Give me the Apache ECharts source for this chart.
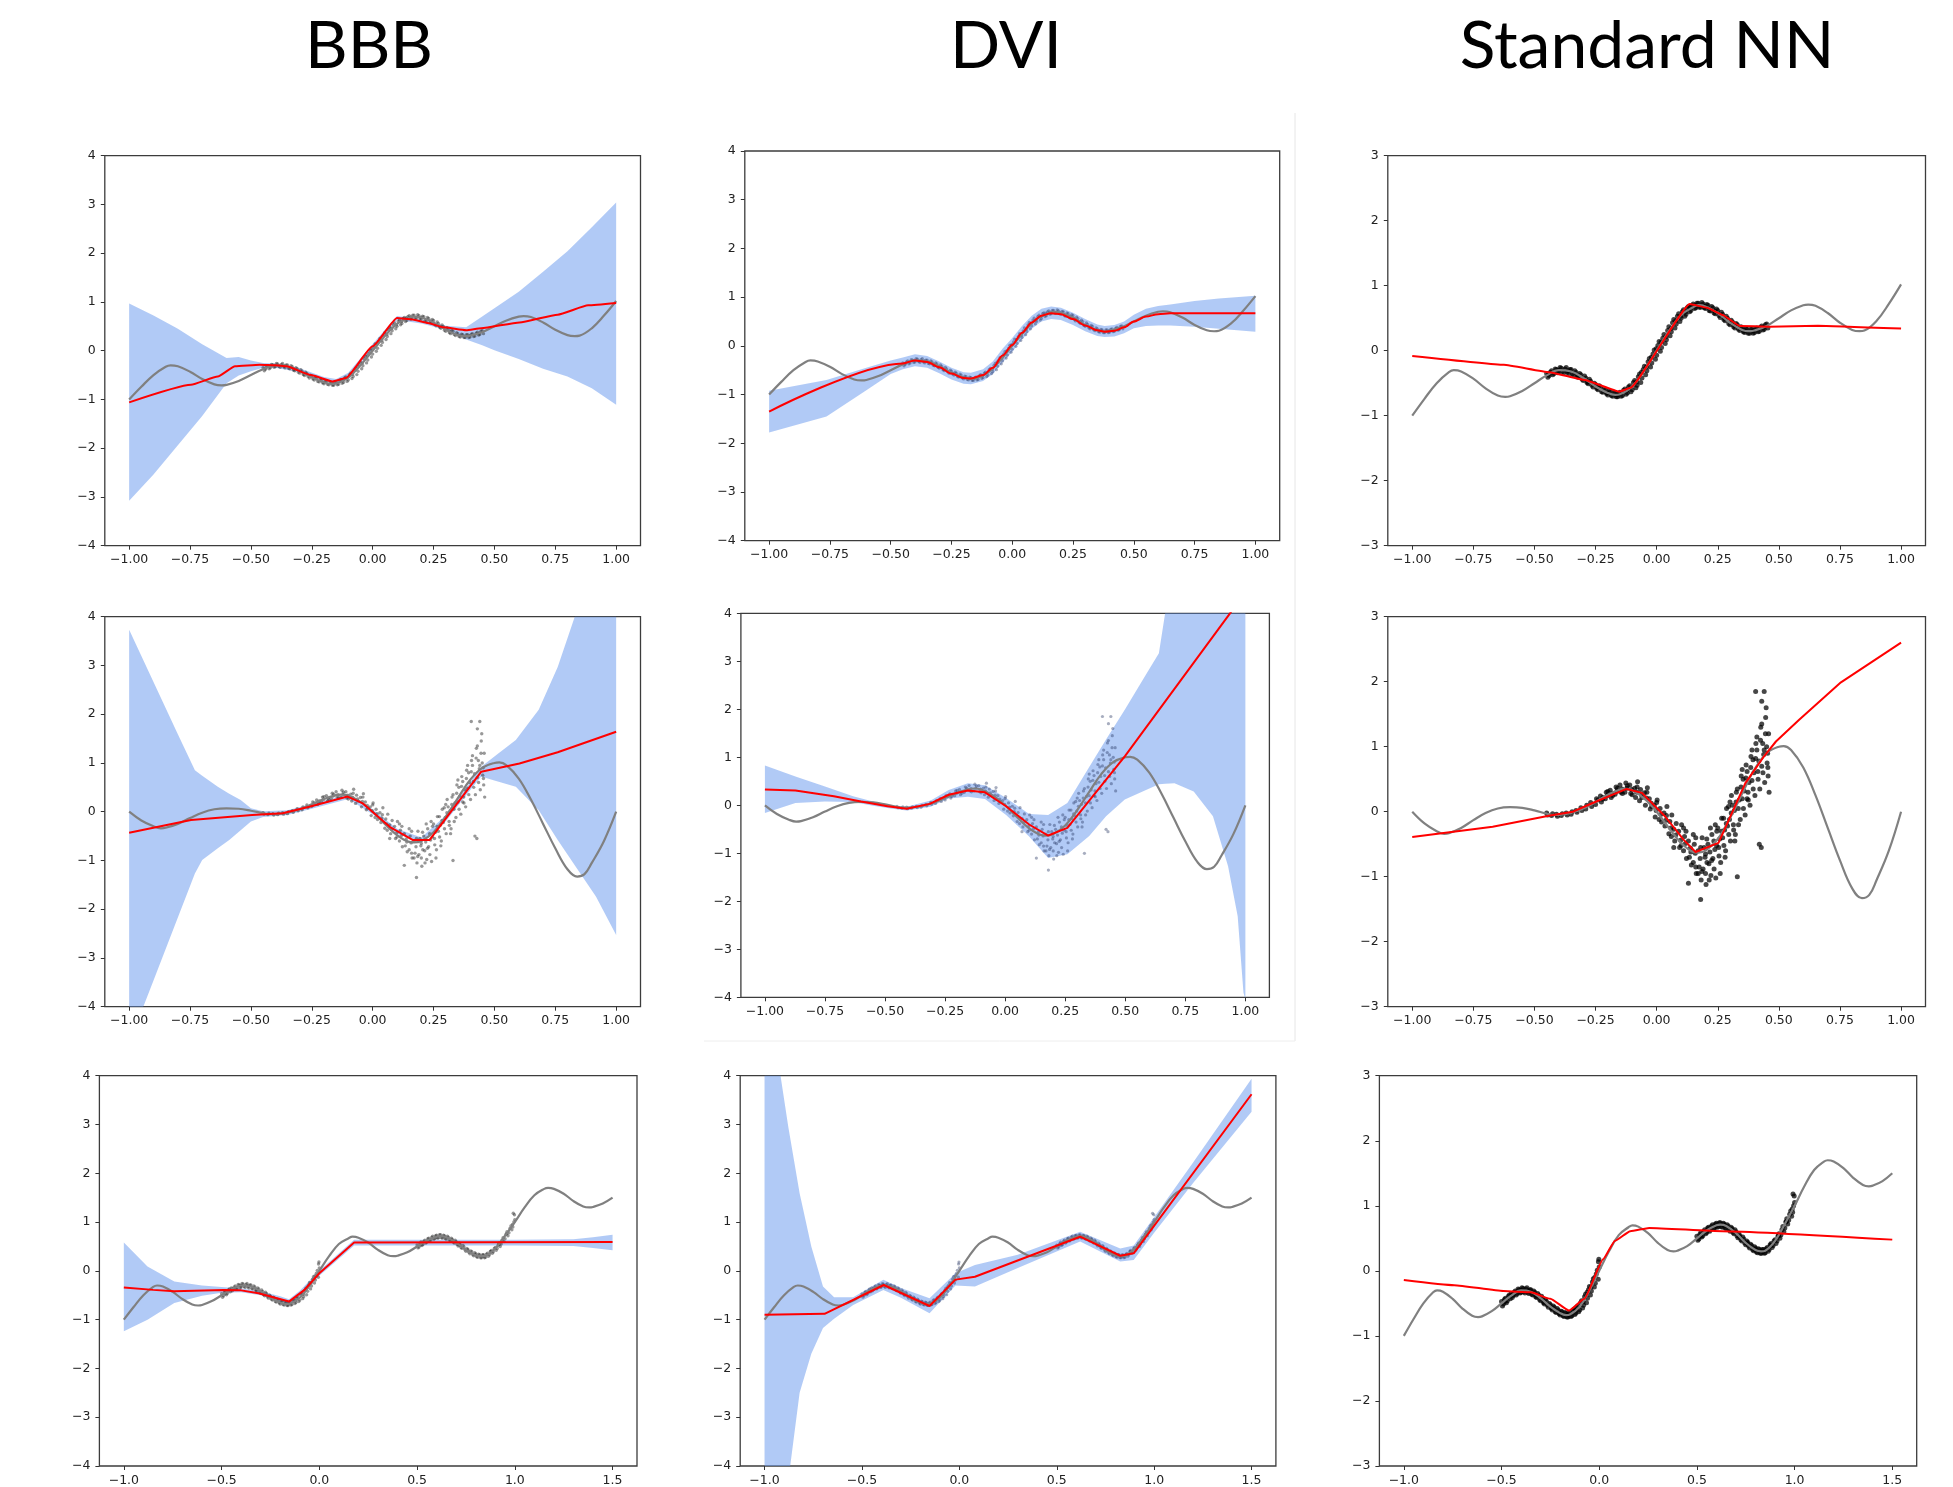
<!DOCTYPE html>
<html><head><meta charset="utf-8">
<script src="https://cdn.jsdelivr.net/npm/echarts@6/dist/echarts.min.js"></script>
<style>html,body{margin:0;padding:0;background:#fff}#c{width:1953px;height:1487px}</style>
</head><body><div id="c"></div>
<script>
// ---------- column titles ----------
const columnTitles = ['BBB', 'DVI', 'Standard NN'];

// ---------- tick labels ----------
const xTicksA = [-1, -0.75, -0.5, -0.25, 0, 0.25, 0.5, 0.75, 1];
const xTicksB = [-1, -0.5, 0, 0.5, 1, 1.5];
const yTicks4 = [-4, -3, -2, -1, 0, 1, 2, 3, 4];
const yTicks3 = [-3, -2, -1, 0, 1, 2, 3];

// ---------- ground-truth curves (gray) ----------
const truthX1 = [-1,-0.95,-0.9,-0.85,-0.83,-0.8,-0.75,-0.7,-0.65,-0.62,-0.6,-0.55,-0.5,-0.45,-0.4,-0.35,-0.3,-0.25,-0.2,-0.17,-0.15,-0.1,-0.05,0,0.05,0.1,0.15,0.17,0.2,0.25,0.3,0.35,0.38,0.4,0.45,0.5,0.55,0.6,0.62,0.65,0.7,0.75,0.8,0.83,0.85,0.9,0.95,1];
const truthY1 = [-1,-0.74,-0.5,-0.33,-0.3,-0.32,-0.43,-0.58,-0.69,-0.71,-0.7,-0.62,-0.5,-0.38,-0.3,-0.32,-0.42,-0.55,-0.65,-0.68,-0.67,-0.55,-0.3,0,0.3,0.55,0.67,0.7,0.68,0.58,0.43,0.32,0.3,0.31,0.38,0.5,0.62,0.7,0.71,0.69,0.58,0.43,0.32,0.3,0.31,0.46,0.72,1.02];
const truthX2 = [-1,-0.95,-0.9,-0.87,-0.85,-0.8,-0.75,-0.7,-0.65,-0.6,-0.55,-0.5,-0.45,-0.42,-0.4,-0.35,-0.3,-0.25,-0.2,-0.15,-0.13,-0.1,-0.05,0,0.05,0.1,0.15,0.17,0.2,0.25,0.3,0.35,0.4,0.45,0.5,0.52,0.55,0.6,0.65,0.7,0.75,0.8,0.84,0.87,0.9,0.95,1];
const truthY2 = [0,-0.18,-0.3,-0.34,-0.33,-0.25,-0.13,-0.02,0.05,0.07,0.06,0.02,-0.03,-0.05,-0.05,-0.02,0.05,0.15,0.26,0.34,0.35,0.33,0.2,0,-0.25,-0.48,-0.62,-0.63,-0.6,-0.42,-0.1,0.28,0.65,0.9,1.0,1.01,0.95,0.68,0.25,-0.25,-0.75,-1.18,-1.33,-1.28,-1.05,-0.6,0];
const truthX3 = [-1,-0.95,-0.9,-0.85,-0.83,-0.8,-0.75,-0.7,-0.65,-0.62,-0.6,-0.55,-0.5,-0.45,-0.4,-0.35,-0.3,-0.25,-0.2,-0.17,-0.15,-0.1,-0.05,0,0.05,0.1,0.15,0.17,0.2,0.25,0.3,0.35,0.38,0.4,0.45,0.5,0.55,0.6,0.62,0.65,0.7,0.75,0.8,0.83,0.85,0.9,0.95,1,1.05,1.1,1.15,1.17,1.2,1.25,1.3,1.35,1.38,1.4,1.45,1.5];
const truthY3 = [-1,-0.74,-0.5,-0.33,-0.3,-0.32,-0.43,-0.58,-0.69,-0.71,-0.7,-0.62,-0.5,-0.38,-0.3,-0.32,-0.42,-0.55,-0.65,-0.68,-0.67,-0.55,-0.3,0,0.3,0.55,0.67,0.7,0.68,0.58,0.43,0.32,0.3,0.31,0.38,0.5,0.62,0.7,0.71,0.69,0.58,0.43,0.32,0.3,0.31,0.46,0.72,1.0,1.3,1.55,1.68,1.7,1.68,1.58,1.43,1.32,1.3,1.31,1.38,1.5];

// ---------- observed data points ----------
const data1 = [
[-0.450,-0.35],[-0.445,-0.41],[-0.440,-0.38],[-0.435,-0.33],[-0.430,-0.31],[-0.425,-0.37],[-0.420,-0.35],[-0.415,-0.28],
[-0.410,-0.29],[-0.405,-0.34],[-0.400,-0.33],[-0.395,-0.26],[-0.390,-0.27],[-0.385,-0.32],[-0.380,-0.34],[-0.375,-0.28],
[-0.370,-0.26],[-0.365,-0.33],[-0.360,-0.35],[-0.355,-0.29],[-0.350,-0.29],[-0.345,-0.36],[-0.340,-0.37],[-0.335,-0.31],
[-0.330,-0.33],[-0.325,-0.40],[-0.320,-0.41],[-0.315,-0.35],[-0.310,-0.37],[-0.305,-0.44],[-0.300,-0.46],[-0.295,-0.39],
[-0.290,-0.42],[-0.285,-0.49],[-0.280,-0.51],[-0.275,-0.44],[-0.270,-0.47],[-0.265,-0.53],[-0.260,-0.56],[-0.255,-0.50],
[-0.250,-0.52],[-0.245,-0.58],[-0.240,-0.60],[-0.235,-0.54],[-0.230,-0.56],[-0.225,-0.63],[-0.220,-0.64],[-0.215,-0.58],
[-0.210,-0.60],[-0.205,-0.66],[-0.200,-0.68],[-0.195,-0.62],[-0.190,-0.63],[-0.185,-0.69],[-0.180,-0.70],[-0.175,-0.64],
[-0.170,-0.65],[-0.165,-0.71],[-0.160,-0.71],[-0.155,-0.66],[-0.150,-0.64],[-0.145,-0.70],[-0.140,-0.69],[-0.135,-0.61],
[-0.130,-0.59],[-0.125,-0.67],[-0.120,-0.65],[-0.115,-0.56],[-0.110,-0.54],[-0.105,-0.63],[-0.100,-0.60],[-0.095,-0.49],
[-0.090,-0.46],[-0.085,-0.57],[-0.080,-0.53],[-0.075,-0.40],[-0.070,-0.36],[-0.065,-0.49],[-0.060,-0.42],[-0.055,-0.29],
[-0.050,-0.24],[-0.045,-0.37],[-0.040,-0.31],[-0.035,-0.17],[-0.030,-0.12],[-0.025,-0.25],[-0.020,-0.19],[-0.015,-0.05],
[-0.010,0.01],[-0.005,-0.13],[0.000,-0.07],[0.005,0.08],[0.010,0.14],[0.015,-0.01],[0.020,0.05],[0.025,0.19],
[0.030,0.25],[0.035,0.11],[0.040,0.17],[0.045,0.31],[0.050,0.37],[0.055,0.23],[0.060,0.29],[0.065,0.43],
[0.070,0.48],[0.075,0.35],[0.080,0.41],[0.085,0.53],[0.090,0.57],[0.095,0.45],[0.100,0.50],[0.105,0.60],
[0.110,0.63],[0.115,0.53],[0.120,0.56],[0.125,0.66],[0.130,0.68],[0.135,0.60],[0.140,0.62],[0.145,0.70],
[0.150,0.72],[0.155,0.65],[0.160,0.66],[0.165,0.73],[0.170,0.73],[0.175,0.67],[0.180,0.67],[0.185,0.74],
[0.190,0.72],[0.195,0.66],[0.200,0.65],[0.205,0.71],[0.210,0.70],[0.215,0.62],[0.220,0.61],[0.225,0.68],
[0.230,0.66],[0.235,0.58],[0.240,0.57],[0.245,0.64],[0.250,0.62],[0.255,0.54],[0.260,0.51],[0.265,0.59],
[0.270,0.56],[0.275,0.48],[0.280,0.46],[0.285,0.53],[0.290,0.50],[0.295,0.42],[0.300,0.40],[0.305,0.47],
[0.310,0.44],[0.315,0.37],[0.320,0.35],[0.325,0.42],[0.330,0.40],[0.335,0.33],[0.340,0.31],[0.345,0.37],
[0.350,0.35],[0.355,0.29],[0.360,0.28],[0.365,0.34],[0.370,0.33],[0.375,0.27],[0.380,0.27],[0.385,0.33],
[0.390,0.33],[0.395,0.27],[0.400,0.28],[0.405,0.34],[0.410,0.35],[0.415,0.29],[0.420,0.30],[0.425,0.36],
[0.430,0.38],[0.435,0.32],[0.440,0.33],[0.445,0.40],[0.450,0.41],[0.455,0.35],
[-0.442,-0.36],[-0.402,-0.30],[-0.362,-0.31],[-0.322,-0.38],[-0.282,-0.48],[-0.242,-0.57],[-0.202,-0.65],[-0.162,-0.68],
[-0.122,-0.61],[-0.082,-0.48],[-0.062,-0.33],[-0.042,-0.25],[-0.022,-0.10],[-0.002,0.03],[0.018,0.13],[0.038,0.22],
[0.058,0.34],[0.078,0.46],[0.098,0.53],[0.118,0.60],[0.138,0.67],[0.158,0.69],[0.198,0.68],[0.238,0.61],
[0.278,0.50],[0.318,0.39],[0.358,0.31],[0.398,0.31],[0.438,0.36]
];
const data2 = [
[-0.450,-0.02],[-0.446,-0.05],[-0.430,-0.06],[-0.426,-0.03],[-0.410,-0.04],[-0.406,-0.07],[-0.390,-0.06],[-0.386,-0.03],
[-0.370,-0.02],[-0.366,-0.05],[-0.350,-0.04],[-0.346,0.00],[-0.330,0.02],[-0.326,-0.01],[-0.310,0.06],[-0.306,0.02],
[-0.290,0.04],[-0.286,0.10],[-0.270,0.14],[-0.266,0.08],[-0.250,0.11],[-0.246,0.20],
[-0.230,0.24],[-0.226,0.15],[-0.222,0.19],[-0.210,0.20],[-0.206,0.30],[-0.202,0.25],
[-0.190,0.33],[-0.186,0.22],[-0.182,0.28],[-0.170,0.27],[-0.166,0.38],[-0.162,0.32],
[-0.150,0.41],[-0.146,0.30],[-0.142,0.35],[-0.130,0.30],[-0.126,0.44],[-0.122,0.36],
[-0.110,0.41],[-0.106,0.28],[-0.102,0.34],[-0.090,0.36],[-0.086,0.22],[-0.082,0.30],[-0.078,0.46],
[-0.070,0.17],[-0.066,0.34],[-0.062,0.26],[-0.050,0.29],[-0.046,0.10],[-0.042,0.21],[-0.038,0.37],
[-0.030,0.20],[-0.026,0.04],[-0.022,0.13],[-0.010,0.10],[-0.006,-0.08],[-0.002,0.02],[0.002,0.18],
[0.010,-0.12],[0.014,0.05],[0.018,-0.04],[0.030,-0.02],[0.034,-0.22],[0.038,-0.13],[0.042,0.08],
[0.050,-0.34],[0.054,-0.15],[0.058,-0.25],[0.062,-0.05],[0.070,-0.27],[0.074,-0.45],[0.078,-0.36],
[0.090,-0.30],[0.094,-0.55],[0.098,-0.44],[0.102,-0.20],[0.110,-0.60],[0.114,-0.38],[0.118,-0.49],[0.122,-0.72],
[0.130,-0.45],[0.134,-0.70],[0.138,-0.56],[0.142,-0.82],[0.150,-0.78],[0.154,-0.50],[0.158,-0.64],[0.162,-0.95],
[0.170,-0.60],[0.174,-0.85],[0.178,-0.72],[0.182,-1.05],[0.186,-0.40],
[0.190,-0.88],[0.194,-0.55],[0.198,-0.70],[0.202,-1.12],[0.206,-0.78],
[0.210,-0.50],[0.214,-0.80],[0.218,-0.62],[0.222,-0.98],[0.226,-0.35],
[0.230,-0.72],[0.234,-0.45],[0.238,-0.58],[0.242,-1.02],[0.246,-0.30],
[0.250,-0.25],[0.254,-0.55],[0.258,-0.42],[0.262,-0.78],[0.266,-0.10],
[0.270,-0.40],[0.274,-0.10],[0.278,-0.28],[0.282,-0.60],[0.286,0.05],
[0.290,-0.22],[0.294,0.08],[0.298,-0.12],[0.302,-0.45],[0.306,0.25],
[0.310,0.10],[0.314,-0.20],[0.318,0.02],[0.322,-0.35],[0.326,0.30],
[0.330,0.35],[0.334,0.05],[0.338,0.18],[0.342,-0.12],[0.346,0.55],
[0.350,0.20],[0.354,0.50],[0.358,0.32],[0.362,-0.05],[0.366,0.72],
[0.370,0.62],[0.374,0.30],[0.378,0.45],[0.382,0.10],[0.386,0.85],
[0.390,0.48],[0.394,0.80],[0.398,0.60],[0.402,0.25],[0.406,1.05],
[0.410,0.95],[0.414,0.62],[0.418,0.78],[0.422,0.35],[0.426,1.30],[0.428,-0.55],
[0.430,0.70],[0.434,1.05],[0.438,0.88],[0.442,0.45],[0.446,1.45],[0.448,1.60],
[0.450,1.00],[0.452,0.75],[0.454,0.90],[0.456,0.55],[0.458,1.20],[0.460,0.30],
[0.405,1.85],[0.440,1.85],[0.180,-1.35],[0.430,1.70],[0.330,-1.00],[0.130,-1.10],[0.420,-0.50],
[-0.240,0.18],[-0.220,0.22],[-0.200,0.31],[-0.180,0.25],[-0.160,0.36],[-0.140,0.28],[-0.120,0.40],[-0.100,0.26],
[-0.080,0.38],[-0.060,0.22],[-0.040,0.30],[-0.020,0.08],[0.000,0.14],[0.020,-0.16],[0.040,-0.06],[0.060,-0.38],
[0.080,-0.18],[0.100,-0.52],[0.120,-0.30],[0.140,-0.62],[0.160,-0.40],[0.160,-0.85],[0.180,-0.55],[0.185,-0.92],
[0.200,-0.65],[0.205,-0.42],[0.215,-1.05],[0.225,-0.75],[0.235,-0.88],[0.245,-0.52],[0.255,-0.68],[0.265,-0.30],
[0.275,-0.52],[0.285,-0.18],[0.295,-0.35],[0.305,-0.02],[0.315,-0.28],[0.325,0.15],[0.335,-0.20],[0.345,0.38],
[0.355,0.05],[0.365,0.52],[0.375,0.18],[0.385,0.68],[0.395,0.35],[0.405,0.82],[0.415,0.50],[0.425,1.10],
[0.435,0.60],[0.445,1.20],[0.455,0.68],[0.440,0.95],[0.430,1.35],[0.410,1.15],[0.390,0.95],[0.370,0.20],
[0.350,0.65],[0.320,-0.45],[0.300,0.15],[0.280,-0.70],[0.260,-0.95],[0.240,-0.20],[0.220,-0.25],[0.200,-0.95],
[0.170,-0.95],[0.150,-0.35],[0.110,-0.25],[0.070,-0.55]
];
const data3 = [
[-0.500,-0.47],[-0.495,-0.54],[-0.490,-0.51],[-0.485,-0.44],[-0.480,-0.42],[-0.475,-0.49],[-0.470,-0.46],[-0.465,-0.39],
[-0.460,-0.37],[-0.455,-0.43],
[-0.450,-0.35],[-0.445,-0.41],[-0.440,-0.38],[-0.435,-0.33],[-0.430,-0.31],[-0.425,-0.37],[-0.420,-0.35],[-0.415,-0.28],
[-0.410,-0.29],[-0.405,-0.34],[-0.400,-0.33],[-0.395,-0.26],[-0.390,-0.27],[-0.385,-0.32],[-0.380,-0.34],[-0.375,-0.28],
[-0.370,-0.26],[-0.365,-0.33],[-0.360,-0.35],[-0.355,-0.29],[-0.350,-0.29],[-0.345,-0.36],[-0.340,-0.37],[-0.335,-0.31],
[-0.330,-0.33],[-0.325,-0.40],[-0.320,-0.41],[-0.315,-0.35],[-0.310,-0.37],[-0.305,-0.44],[-0.300,-0.46],[-0.295,-0.39],
[-0.290,-0.42],[-0.285,-0.49],[-0.280,-0.51],[-0.275,-0.44],[-0.270,-0.47],[-0.265,-0.53],[-0.260,-0.56],[-0.255,-0.50],
[-0.250,-0.52],[-0.245,-0.58],[-0.240,-0.60],[-0.235,-0.54],[-0.230,-0.56],[-0.225,-0.63],[-0.220,-0.64],[-0.215,-0.58],
[-0.210,-0.60],[-0.205,-0.66],[-0.200,-0.68],[-0.195,-0.62],[-0.190,-0.63],[-0.185,-0.69],[-0.180,-0.70],[-0.175,-0.64],
[-0.170,-0.65],[-0.165,-0.71],[-0.160,-0.71],[-0.155,-0.66],[-0.150,-0.64],[-0.145,-0.70],[-0.140,-0.69],[-0.135,-0.61],
[-0.130,-0.59],[-0.125,-0.67],[-0.120,-0.65],[-0.115,-0.56],[-0.110,-0.54],[-0.105,-0.63],[-0.100,-0.60],[-0.095,-0.49],
[-0.090,-0.46],[-0.085,-0.57],[-0.080,-0.53],[-0.075,-0.40],[-0.070,-0.36],[-0.065,-0.49],[-0.060,-0.42],[-0.055,-0.29],
[-0.050,-0.24],[-0.045,-0.37],[-0.040,-0.31],[-0.035,-0.17],[-0.030,-0.12],[-0.025,-0.25],[-0.020,-0.19],[-0.015,-0.05],
[-0.010,0.01],[-0.005,-0.13],[-0.004,0.14],[-0.002,0.18],[0.000,0.06],
[-0.482,-0.47],[-0.442,-0.36],[-0.402,-0.30],[-0.362,-0.31],[-0.322,-0.38],[-0.282,-0.48],[-0.242,-0.57],[-0.202,-0.65],
[-0.162,-0.68],[-0.122,-0.61],[-0.082,-0.48],[-0.062,-0.33],[-0.042,-0.25],[-0.022,-0.10],
[0.500,0.53],[0.505,0.47],[0.510,0.49],[0.515,0.56],[0.520,0.59],[0.525,0.52],[0.530,0.54],[0.535,0.61],
[0.540,0.63],[0.545,0.57],[0.550,0.59],[0.555,0.66],[0.560,0.67],[0.565,0.61],[0.570,0.63],[0.575,0.69],
[0.580,0.71],[0.585,0.65],[0.590,0.66],[0.595,0.72],[0.600,0.73],[0.605,0.67],[0.610,0.68],[0.615,0.74],
[0.620,0.74],[0.625,0.68],[0.630,0.67],[0.635,0.73],[0.640,0.72],[0.645,0.66],[0.650,0.65],[0.655,0.71],
[0.660,0.69],[0.665,0.63],[0.670,0.61],[0.675,0.67],[0.680,0.65],[0.685,0.59],[0.690,0.57],[0.695,0.63],
[0.700,0.60],[0.705,0.54],[0.710,0.51],[0.715,0.57],[0.720,0.54],[0.725,0.48],[0.730,0.46],[0.735,0.52],
[0.740,0.49],[0.745,0.43],[0.750,0.40],[0.755,0.46],[0.760,0.44],[0.765,0.38],[0.770,0.35],[0.775,0.41],
[0.780,0.39],[0.785,0.33],[0.790,0.31],[0.795,0.37],[0.800,0.35],[0.805,0.29],[0.810,0.28],[0.815,0.34],
[0.820,0.33],[0.825,0.27],[0.830,0.27],[0.835,0.33],[0.840,0.33],[0.845,0.27],[0.850,0.28],[0.855,0.34],
[0.860,0.36],[0.865,0.30],[0.870,0.33],[0.875,0.40],[0.880,0.42],[0.885,0.36],[0.890,0.39],[0.895,0.46],
[0.900,0.48],[0.905,0.42],[0.910,0.46],[0.915,0.53],[0.920,0.57],[0.925,0.50],[0.930,0.55],[0.935,0.63],
[0.940,0.68],[0.945,0.60],[0.950,0.66],[0.955,0.75],[0.960,0.80],[0.965,0.72],[0.970,0.78],[0.975,0.87],
[0.980,0.92],[0.985,0.84],[0.990,0.90],[0.995,1.00],[1.000,1.05],[0.998,1.15],[0.992,1.18],
[0.518,0.53],[0.558,0.63],[0.598,0.69],[0.638,0.70],[0.678,0.63],[0.718,0.52],[0.758,0.42],[0.798,0.33],
[0.838,0.30],[0.878,0.39],[0.918,0.54],[0.958,0.76],[0.988,0.95]
];

// ---------- predictive means (red) ----------
const meanBBB1 = [[-1,-1.06],[-0.746,-0.7],[-0.636,-0.53],[-0.565,-0.32],[-0.464,-0.29],[-0.4,-0.3],[-0.354,-0.32],[-0.254,-0.5],[-0.165,-0.63],[-0.11,-0.56],[0,0.09],[0.1,0.67],[0.164,0.64],[0.227,0.57],[0.29,0.48],[0.384,0.42],[0.446,0.46],[0.603,0.58],[0.76,0.74],[0.885,0.93],[1,0.98]];
const meanDVI1 = [[-1,-1.35],[-0.45,-0.36],[-0.4,-0.3],[-0.35,-0.33],[-0.3,-0.44],[-0.25,-0.57],[-0.2,-0.66],[-0.17,-0.67],[-0.12,-0.6],[-0.08,-0.45],[-0.04,-0.2],[0,0.02],[0.04,0.27],[0.08,0.48],[0.12,0.62],[0.16,0.67],[0.2,0.65],[0.25,0.55],[0.3,0.42],[0.35,0.32],[0.38,0.29],[0.42,0.31],[0.46,0.38],[0.5,0.5],[0.55,0.6],[0.6,0.65],[0.65,0.67],[1,0.67]];
const meanSNN1 = [[-1,-0.08],[-0.625,-0.215],[-0.44,-0.33],[-0.295,-0.45],[-0.154,-0.63],[-0.107,-0.57],[0.135,0.72],[0.206,0.66],[0.27,0.55],[0.34,0.38],[0.46,0.37],[0.66,0.385],[1,0.34]];
const meanBBB2 = [[-1,-0.43],[-0.746,-0.17],[-0.495,-0.07],[-0.37,-0.03],[-0.26,0.1],[-0.103,0.31],[-0.04,0.17],[0.07,-0.31],[0.164,-0.58],[0.234,-0.58],[0.446,0.82],[0.603,0.99],[0.76,1.22],[1,1.64]];
const meanDVI2 = [[-1,0.33],[-0.873,0.31],[-0.713,0.19],[-0.6,0.08],[-0.49,-0.02],[-0.41,-0.07],[-0.314,0.03],[-0.235,0.22],[-0.155,0.31],[-0.084,0.27],[0.004,-0.02],[0.1,-0.4],[0.179,-0.63],[0.259,-0.47],[0.498,1.02],[0.936,4.0],[1,4.44]];
const meanSNN2 = [[-1,-0.39],[-0.671,-0.23],[-0.436,-0.06],[-0.342,0],[-0.264,0.13],[-0.123,0.35],[-0.06,0.29],[0.034,-0.07],[0.11,-0.43],[0.159,-0.62],[0.253,-0.48],[0.363,0.44],[0.441,0.86],[0.488,1.08],[0.582,1.41],[0.754,1.99],[1,2.6]];
const meanBBB3 = [[-1,-0.34],[-0.85,-0.39],[-0.742,-0.42],[-0.488,-0.39],[-0.4,-0.4],[-0.311,-0.46],[-0.155,-0.63],[-0.076,-0.39],[0,-0.05],[0.178,0.58],[1.5,0.59]];
const meanDVI3 = [[-1,-0.9],[-0.692,-0.88],[-0.388,-0.29],[-0.153,-0.72],[-0.02,-0.18],[0.08,-0.12],[0.62,0.7],[0.826,0.31],[0.895,0.36],[1.5,3.62]];
const meanSNN3 = [[-1,-0.14],[-0.742,-0.22],[-0.49,-0.31],[-0.35,-0.33],[-0.25,-0.43],[-0.155,-0.61],[-0.076,-0.43],[0.02,0.18],[0.08,0.46],[0.159,0.61],[0.256,0.66],[0.63,0.61],[1.5,0.48]];

// ---------- uncertainty bands [x, lower, upper] ----------
const bandBBB1 = [[-1,-3.08,0.97],[-0.9,-2.54,0.72],[-0.8,-1.94,0.45],[-0.7,-1.34,0.13],[-0.6,-0.67,-0.15],[-0.55,-0.51,-0.13],[-0.5,-0.42,-0.2],[-0.45,-0.35,-0.25],[-0.4,-0.35,-0.26],[-0.3,-0.44,-0.36],[-0.2,-0.62,-0.54],[-0.15,-0.66,-0.58],[-0.1,-0.55,-0.45],[0,0.04,0.14],[0.1,0.63,0.71],[0.2,0.56,0.64],[0.3,0.43,0.51],[0.384,0.23,0.48],[0.45,0.11,0.7],[0.5,0.01,0.87],[0.6,-0.17,1.21],[0.7,-0.37,1.62],[0.8,-0.53,2.04],[0.9,-0.77,2.53],[1,-1.11,3.04]];
const bandDVI1 = [[-1,-1.78,-0.92],[-0.764,-1.45,-0.7],[-0.6,-0.91,-0.45],[-0.5,-0.58,-0.3],[-0.45,-0.48,-0.24],[-0.4,-0.42,-0.17],[-0.35,-0.45,-0.21],[-0.3,-0.56,-0.32],[-0.25,-0.69,-0.45],[-0.2,-0.78,-0.54],[-0.17,-0.79,-0.55],[-0.12,-0.72,-0.48],[-0.08,-0.58,-0.32],[-0.04,-0.34,-0.06],[0,-0.12,0.16],[0.04,0.13,0.41],[0.08,0.35,0.62],[0.12,0.5,0.76],[0.16,0.55,0.81],[0.2,0.53,0.78],[0.25,0.43,0.68],[0.3,0.3,0.55],[0.35,0.2,0.44],[0.38,0.18,0.41],[0.42,0.19,0.43],[0.46,0.26,0.5],[0.5,0.36,0.64],[0.55,0.41,0.76],[0.6,0.42,0.82],[0.65,0.42,0.85],[0.75,0.39,0.92],[0.85,0.35,0.97],[1,0.29,1.03]];
const bandBBB2 = [[-1,-4.75,3.73],[-0.9,-3.46,2.66],[-0.8,-2.17,1.59],[-0.73,-1.27,0.85],[-0.7,-0.99,0.74],[-0.636,-0.75,0.51],[-0.589,-0.58,0.37],[-0.542,-0.38,0.24],[-0.5,-0.2,0.07],[-0.45,-0.11,0.01],[-0.35,-0.07,0.03],[-0.25,0.06,0.16],[-0.1,0.26,0.36],[0,-0.05,0.05],[0.1,-0.45,-0.35],[0.2,-0.63,-0.53],[0.3,-0.2,-0.08],[0.4,0.44,0.6],[0.446,0.72,0.92],[0.5,0.64,1.13],[0.588,0.51,1.47],[0.682,0.03,2.09],[0.76,-0.58,2.97],[0.83,-1.1,4.0],[0.917,-1.74,5.5],[1,-2.53,7.0]];
const bandDVI2 = [[-1,-0.16,0.83],[-0.873,0.05,0.6],[-0.75,0.08,0.39],[-0.633,0.07,0.19],[-0.55,-0.01,0.08],[-0.47,-0.07,-0.02],[-0.41,-0.11,-0.03],[-0.31,-0.03,0.1],[-0.235,0.14,0.32],[-0.155,0.18,0.46],[-0.084,0.13,0.42],[0.004,-0.2,0.15],[0.1,-0.65,-0.18],[0.179,-1.1,-0.2],[0.259,-1.02,0.05],[0.35,-0.64,0.8],[0.42,-0.23,1.37],[0.498,0.12,1.99],[0.57,0.28,2.59],[0.64,0.44,3.17],[0.666,0.45,4.0],[0.705,0.46,4.5],[0.785,0.29,5.2],[0.865,-0.23,5.8],[0.928,-1.27,6.2],[0.968,-2.31,6.5],[0.992,-3.9,6.7],[1,-4.05,6.8]];
const bandBBB3 = [[-1,-1.24,0.58],[-0.879,-1.0,0.09],[-0.742,-0.66,-0.22],[-0.6,-0.51,-0.3],[-0.5,-0.45,-0.33],[-0.4,-0.44,-0.36],[-0.3,-0.5,-0.42],[-0.2,-0.62,-0.52],[-0.155,-0.69,-0.58],[-0.1,-0.51,-0.41],[0,-0.1,0],[0.178,0.52,0.64],[0.5,0.52,0.64],[1,0.52,0.64],[1.3,0.51,0.65],[1.4,0.47,0.69],[1.5,0.42,0.74]];
const bandDVI3 = [[-1,-9,9],[-0.95,-7,6.5],[-0.918,-5.2,4.0],[-0.878,-4.3,2.95],[-0.82,-2.5,1.59],[-0.76,-1.7,0.5],[-0.7,-1.17,-0.32],[-0.643,-0.98,-0.54],[-0.545,-0.7,-0.54],[-0.39,-0.39,-0.18],[-0.3,-0.55,-0.35],[-0.153,-0.87,-0.56],[-0.02,-0.3,-0.05],[0.08,-0.32,0.12],[0.3,0.06,0.33],[0.62,0.6,0.8],[0.826,0.19,0.46],[0.895,0.22,0.52],[1,0.78,1.1],[1.2,1.8,2.22],[1.5,3.26,3.94]];

// ---------- layout ----------
const panels = [
  {g:[104.8,155.7,535.7,390],   xr:[-1.1,1.1],     yr:[-4,4], xt:xTicksA, xd:2, yt:yTicks4, tx:truthX1, ty:truthY1, pts:data1, kind:'bbb', mean:meanBBB1, band:bandBBB1, sm:0.15},
  {g:[744.8,151,534.9,389.7],   xr:[-1.1,1.1],     yr:[-4,4], xt:xTicksA, xd:2, yt:yTicks4, tx:truthX1, ty:truthY1, pts:data1, kind:'dvi', mean:meanDVI1, band:bandDVI1, sm:0.3},
  {g:[1387.8,155.7,537.7,390],  xr:[-1.1,1.1],     yr:[-3,3], xt:xTicksA, xd:2, yt:yTicks3, tx:truthX1, ty:truthY1, pts:data1, kind:'snn', mean:meanSNN1, band:null, sm:0.1},
  {g:[104.8,616.7,535.7,390],   xr:[-1.1,1.1],     yr:[-4,4], xt:xTicksA, xd:2, yt:yTicks4, tx:truthX2, ty:truthY2, pts:data2, kind:'bbb', mean:meanBBB2, band:bandBBB2, sm:0},
  {g:[740.9,613.3,528.5,384],   xr:[-1.1,1.1],     yr:[-4,4], xt:xTicksA, xd:2, yt:yTicks4, tx:truthX2, ty:truthY2, pts:data2, kind:'dvi', mean:meanDVI2, band:bandDVI2, sm:0},
  {g:[1387.8,616.7,537.7,390],  xr:[-1.1,1.1],     yr:[-3,3], xt:xTicksA, xd:2, yt:yTicks3, tx:truthX2, ty:truthY2, pts:data2, kind:'snn', mean:meanSNN2, band:null, sm:0},
  {g:[99.4,1075.7,537.6,391],   xr:[-1.125,1.625], yr:[-4,4], xt:xTicksB, xd:1, yt:yTicks4, tx:truthX3, ty:truthY3, pts:data3, kind:'bbb', mean:meanBBB3, band:bandBBB3, sm:0},
  {g:[740.2,1075.7,535.7,391],  xr:[-1.125,1.625], yr:[-4,4], xt:xTicksB, xd:1, yt:yTicks4, tx:truthX3, ty:truthY3, pts:data3, kind:'dvi', mean:meanDVI3, band:bandDVI3, sm:0},
  {g:[1379.4,1075.7,537.3,391], xr:[-1.125,1.625], yr:[-3,3], xt:xTicksB, xd:1, yt:yTicks3, tx:truthX3, ty:truthY3, pts:data3, kind:'snn', mean:meanSNN3, band:null, sm:0.15}
];

function fmt(v, d) {
  const s = Math.abs(v).toFixed(d);
  return (v < 0 ? '\u2212' : '') + s;
}
function bandRenderer(arr) {
  return function (params, api) {
    if (params.dataIndex !== 0) return null;
    const up = arr.map(d => api.coord([d[0], d[2]]));
    const lo = arr.map(d => api.coord([d[0], d[1]])).reverse();
    return { type: 'polygon', shape: { points: up.concat(lo) }, style: { fill: 'rgba(100,149,237,0.5)' } };
  };
}
const dotStyle = {
  bbb: { size: 3.4, color: 'rgba(40,40,40,0.6)' },
  dvi: { size: 3.2, color: 'rgba(35,50,95,0.5)' },
  snn: { size: 5, color: 'rgba(0,0,0,0.9)' }
};

const grid = [], xAxis = [], yAxis = [], series = [];
const labelFont = { fontFamily: 'DejaVu Sans', fontSize: 12.5, color: '#222' };
panels.forEach((p, i) => {
  grid.push({ left: p.g[0], top: p.g[1], width: p.g[2], height: p.g[3], show: true, borderColor: '#3c3c3c', borderWidth: 1.3, backgroundColor: 'transparent', containLabel: false });
  xAxis.push({
    gridIndex: i, type: 'value', min: p.xr[0], max: p.xr[1], position: 'bottom',
    axisLine: { show: false, onZero: false }, splitLine: { show: false },
    axisTick: { show: true, inside: false, length: 4, customValues: p.xt, lineStyle: { color: '#333', width: 1 } },
    axisLabel: Object.assign({ customValues: p.xt, margin: 8, formatter: v => fmt(v, p.xd) }, labelFont)
  });
  yAxis.push({
    gridIndex: i, type: 'value', min: p.yr[0], max: p.yr[1], position: 'left',
    axisLine: { show: false, onZero: false }, splitLine: { show: false },
    axisTick: { show: true, inside: false, length: 4, customValues: p.yt, lineStyle: { color: '#333', width: 1 } },
    axisLabel: Object.assign({ customValues: p.yt, margin: 9, formatter: v => fmt(v, 0) }, labelFont)
  });
  if (p.band) {
    series.push({ type: 'custom', xAxisIndex: i, yAxisIndex: i, clip: true, silent: true, z: 1,
      data: p.band, encode: { x: 0, y: [1, 2] }, renderItem: bandRenderer(p.band) });
  }
  const ds = dotStyle[p.kind];
  series.push({ type: 'scatter', xAxisIndex: i, yAxisIndex: i, silent: true, z: 2, clip: true,
    data: p.pts, symbolSize: ds.size, itemStyle: { color: ds.color } });
  series.push({ type: 'line', xAxisIndex: i, yAxisIndex: i, silent: true, z: 3, clip: true,
    data: p.tx.map((x, k) => [x, p.ty[k]]), symbol: 'none', smooth: 0.4,
    lineStyle: { color: '#808080', width: 2.2 } });
  series.push({ type: 'line', xAxisIndex: i, yAxisIndex: i, silent: true, z: 4, clip: true,
    data: p.mean, symbol: 'none', smooth: p.sm, smoothMonotone: 'x',
    lineStyle: { color: '#ff0000', width: 2 } });
});

const titleX = [369, 1006, 1647];
const graphic = columnTitles.map((t, k) => ({
  type: 'text', x: titleX[k], y: 47, z: 10,
  style: { text: t, fontSize: 66, fontFamily: 'Lato', fill: '#000', align: 'center', verticalAlign: 'middle', textAlign: 'center', textVerticalAlign: 'middle' }
}));
graphic.push({ type: 'line', shape: { x1: 1295, y1: 113, x2: 1295, y2: 1041 }, style: { stroke: '#e6e6e6', lineWidth: 1 } });
graphic.push({ type: 'line', shape: { x1: 704, y1: 1041, x2: 1295, y2: 1041 }, style: { stroke: '#eeeeee', lineWidth: 1 } });

const chart = echarts.init(document.getElementById('c'), null, { renderer: 'canvas' });
chart.setOption({ animation: false, backgroundColor: '#fff', grid, xAxis, yAxis, series, graphic });
</script>
</body></html>
